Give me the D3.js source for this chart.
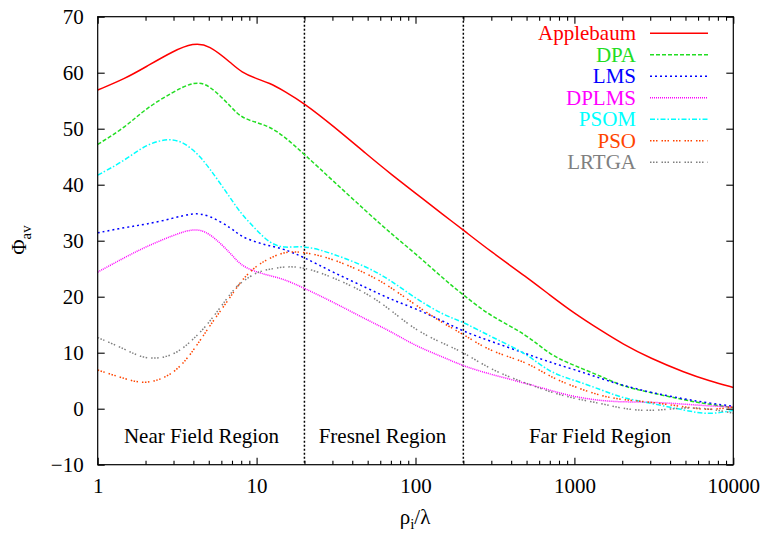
<!DOCTYPE html>
<html>
<head>
<meta charset="utf-8">
<script src="https://cdn.jsdelivr.net/npm/d3@7"></script>
<style>
  body { margin: 0; background: #fff; }
  text { font-family: "Liberation Serif", "Times New Roman", serif; }
</style>
</head>
<body>
<div class="playground"></div>
<script>
// data
var xValues   = [1, 1.5, 2, 3, 4, 5, 7, 8, 10, 12, 15, 20, 30, 50, 70, 100, 150, 200, 300, 500, 700, 1000, 1500, 2000, 3000, 5000, 7000, 10000];
var applebaum = [56.9, 59.0, 61.0, 63.9, 65.3, 65.0, 61.6, 60.1, 58.9, 58.2, 56.7, 54.5, 50.6, 45.3, 41.9, 38.5, 34.6, 31.9, 28.0, 23.5, 20.3, 17.0, 13.8, 11.6, 9.0, 6.4, 5.0, 3.8];
var dpa       = [47.2, 50.3, 53.6, 56.6, 58.4, 58.0, 53.7, 52.0, 51.1, 50.4, 48.6, 45.4, 40.8, 35.0, 31.3, 27.7, 23.2, 20.3, 16.4, 13.3, 9.6, 7.7, 5.7, 4.0, 2.9, 1.5, 0.8, 0.2];
var lms       = [31.4, 32.4, 32.9, 34.0, 35.0, 34.6, 32.2, 30.7, 29.7, 29.1, 28.5, 27.0, 24.4, 21.5, 19.5, 17.9, 15.6, 13.8, 12.0, 9.8, 8.3, 7.0, 5.3, 4.2, 2.9, 1.7, 1.0, 0.45];
var dplms     = [24.4, 27.1, 28.9, 31.0, 32.2, 31.6, 27.5, 25.5, 24.4, 23.8, 23.1, 21.5, 19.1, 15.8, 13.8, 11.2, 9.2, 7.6, 6.1, 4.5, 3.3, 2.1, 1.4, 1.2, 1.2, 0.8, 0.5, 0.3];
var psom      = [41.7, 44.4, 47.2, 48.6, 46.4, 43.2, 37.2, 34.8, 31.9, 29.6, 28.6, 29.2, 27.7, 25.3, 22.9, 19.7, 16.7, 15.5, 12.8, 9.9, 6.4, 5.1, 3.3, 1.9, 1.0, -0.3, -1.1, -0.3];
var pso       = [6.9, 5.3, 4.3, 6.0, 10.3, 14.6, 20.3, 22.9, 25.6, 26.8, 28.1, 28.0, 26.8, 24.1, 21.7, 18.5, 15.2, 13.3, 10.1, 8.4, 5.7, 3.9, 2.2, 1.6, 1.2, 0.3, -0.3, 0.3];
var lrtga     = [12.7, 10.6, 8.7, 9.3, 12.4, 15.2, 21.0, 22.6, 24.4, 24.9, 25.4, 25.3, 23.5, 20.6, 17.6, 14.0, 11.6, 10.1, 6.9, 4.5, 3.0, 1.8, 0.9, 0.0, -0.5, 0.3, 0.0, -0.8];

var seriesNames = ["Applebaum", "DPA", "LMS", "DPLMS", "PSOM", "PSO", "LRTGA"];
var seriesData  = [applebaum, dpa, lms, dplms, psom, pso, lrtga];

var xMajorTicks = [1, 10, 100, 1000, 10000];
var yTicks = [-10, 0, 10, 20, 30, 40, 50, 60, 70];
var regionBounds = [20, 200];
var regionLabels = ["Near Field Region", "Fresnel Region", "Far Field Region"];
var regionLabelX = [4.5, 62, 1450];

// styles
var colors = ["#ff0000", "#22dd22", "#0000ff", "#ff00ff", "#00ffff", "#ff4500", "#808080"];
var dashes = ["none", "4,2", "2,3", "1,1", "5,2,1.5,2", "1.5,1.5,1.5,1.5,1.5,4", "1.5,1.5,1.5,1.5,1.5,4"];

var width = 767, height = 533;
var plotLeft = 97.7, plotRight = 733.3, plotTop = 16.7, plotBottom = 464.7;

var svg = d3.select('body').select('.playground')
  .append('svg')
  .attr('width', width)
  .attr('height', height);

var x = d3.scaleLog().domain([1, 10000]).range([plotLeft, plotRight]);
var y = d3.scaleLinear().domain([-10, 70]).range([plotBottom, plotTop]);

var minorTicks = [];
xMajorTicks.slice(0, -1).forEach(function(m){
  for (var k = 2; k < 10; k++) minorTicks.push(m * k);
});

// axes, ticks pointing inward
svg.append('g').attr('transform', 'translate(0,' + plotBottom + ')')
  .call(d3.axisBottom(x).tickValues(xMajorTicks).tickFormat(d3.format('d')).tickSizeInner(-7).tickSizeOuter(0).tickPadding(13.5));
svg.append('g').attr('transform', 'translate(0,' + plotBottom + ')')
  .call(d3.axisBottom(x).tickValues(minorTicks).tickFormat('').tickSizeInner(-4).tickSizeOuter(0));
svg.append('g').attr('transform', 'translate(0,' + plotTop + ')')
  .call(d3.axisTop(x).tickValues(xMajorTicks).tickFormat('').tickSizeInner(-7).tickSizeOuter(0));
svg.append('g').attr('transform', 'translate(0,' + plotTop + ')')
  .call(d3.axisTop(x).tickValues(minorTicks).tickFormat('').tickSizeInner(-4).tickSizeOuter(0));
svg.append('g').attr('transform', 'translate(' + plotLeft + ',0)')
  .call(d3.axisLeft(y).tickValues(yTicks).tickSizeInner(-7).tickSizeOuter(0).tickPadding(14));
svg.append('g').attr('transform', 'translate(' + plotRight + ',0)')
  .call(d3.axisRight(y).tickValues(yTicks).tickFormat('').tickSizeInner(-7).tickSizeOuter(0));

svg.selectAll('.domain').remove();
svg.selectAll('.tick line').attr('stroke', '#000').attr('stroke-width', 1.1);
svg.selectAll('.tick text').attr('font-size', 21).attr('fill', '#000')
  .style('font-family', '"Liberation Serif", "Times New Roman", serif');

// region separators
svg.selectAll('.bound').data(regionBounds).enter().append('line')
  .attr('x1', function(d){ return x(d); })
  .attr('x2', function(d){ return x(d); })
  .attr('y1', plotTop).attr('y2', plotBottom)
  .attr('stroke', '#000').attr('stroke-width', 1.5)
  .attr('stroke-dasharray', '2,2');

svg.selectAll('.region').data(regionLabels).enter().append('text')
  .attr('x', function(d, i){ return x(regionLabelX[i]); })
  .attr('y', 443)
  .attr('text-anchor', 'middle')
  .attr('font-size', 21)
  .text(function(d){ return d; });

// curves
svg.append('clipPath').attr('id', 'clip').append('rect')
  .attr('x', plotLeft).attr('y', plotTop)
  .attr('width', plotRight - plotLeft).attr('height', plotBottom - plotTop);

var line = d3.line()
  .x(function(d, i){ return x(xValues[i]); })
  .y(function(d){ return y(d); })
  .curve(d3.curveBasis);

svg.append('g').attr('clip-path', 'url(#clip)')
  .selectAll('path').data(seriesData).enter().append('path')
  .attr('d', function(d){ return line(d); })
  .attr('fill', 'none')
  .attr('stroke', function(d, i){ return colors[i]; })
  .attr('stroke-width', 1.5)
  .attr('stroke-dasharray', function(d, i){ return dashes[i]; });

// frame
svg.append('rect')
  .attr('x', plotLeft).attr('y', plotTop)
  .attr('width', plotRight - plotLeft).attr('height', plotBottom - plotTop)
  .attr('fill', 'none').attr('stroke', '#000').attr('stroke-width', 1.2);

// legend
var legend = svg.selectAll('.legend').data(seriesNames).enter().append('g')
  .attr('transform', function(d, i){ return 'translate(0,' + (33.3 + i * 21.5) + ')'; });
legend.append('text')
  .attr('x', 636).attr('dy', '0.33em')
  .attr('text-anchor', 'end')
  .attr('font-size', 21)
  .attr('fill', function(d, i){ return colors[i]; })
  .text(function(d){ return d; });
legend.append('line')
  .attr('x1', 650).attr('x2', 708)
  .attr('stroke', function(d, i){ return colors[i]; })
  .attr('stroke-width', 1.5)
  .attr('stroke-dasharray', function(d, i){ return dashes[i]; });

// axis titles
var xt = svg.append('text').attr('x', 415).attr('y', 524).attr('text-anchor', 'middle').attr('font-size', 21);
xt.append('tspan').text('ρ');
xt.append('tspan').attr('dy', 5).attr('font-size', 15).text('i');
xt.append('tspan').attr('dy', -5).text('/λ');

var yt = svg.append('text').attr('transform', 'translate(26,240) rotate(-90)').attr('text-anchor', 'middle').attr('font-size', 21);
yt.append('tspan').text('Φ');
yt.append('tspan').attr('dy', 5).attr('font-size', 15).text('av');
</script>
</body>
</html>
